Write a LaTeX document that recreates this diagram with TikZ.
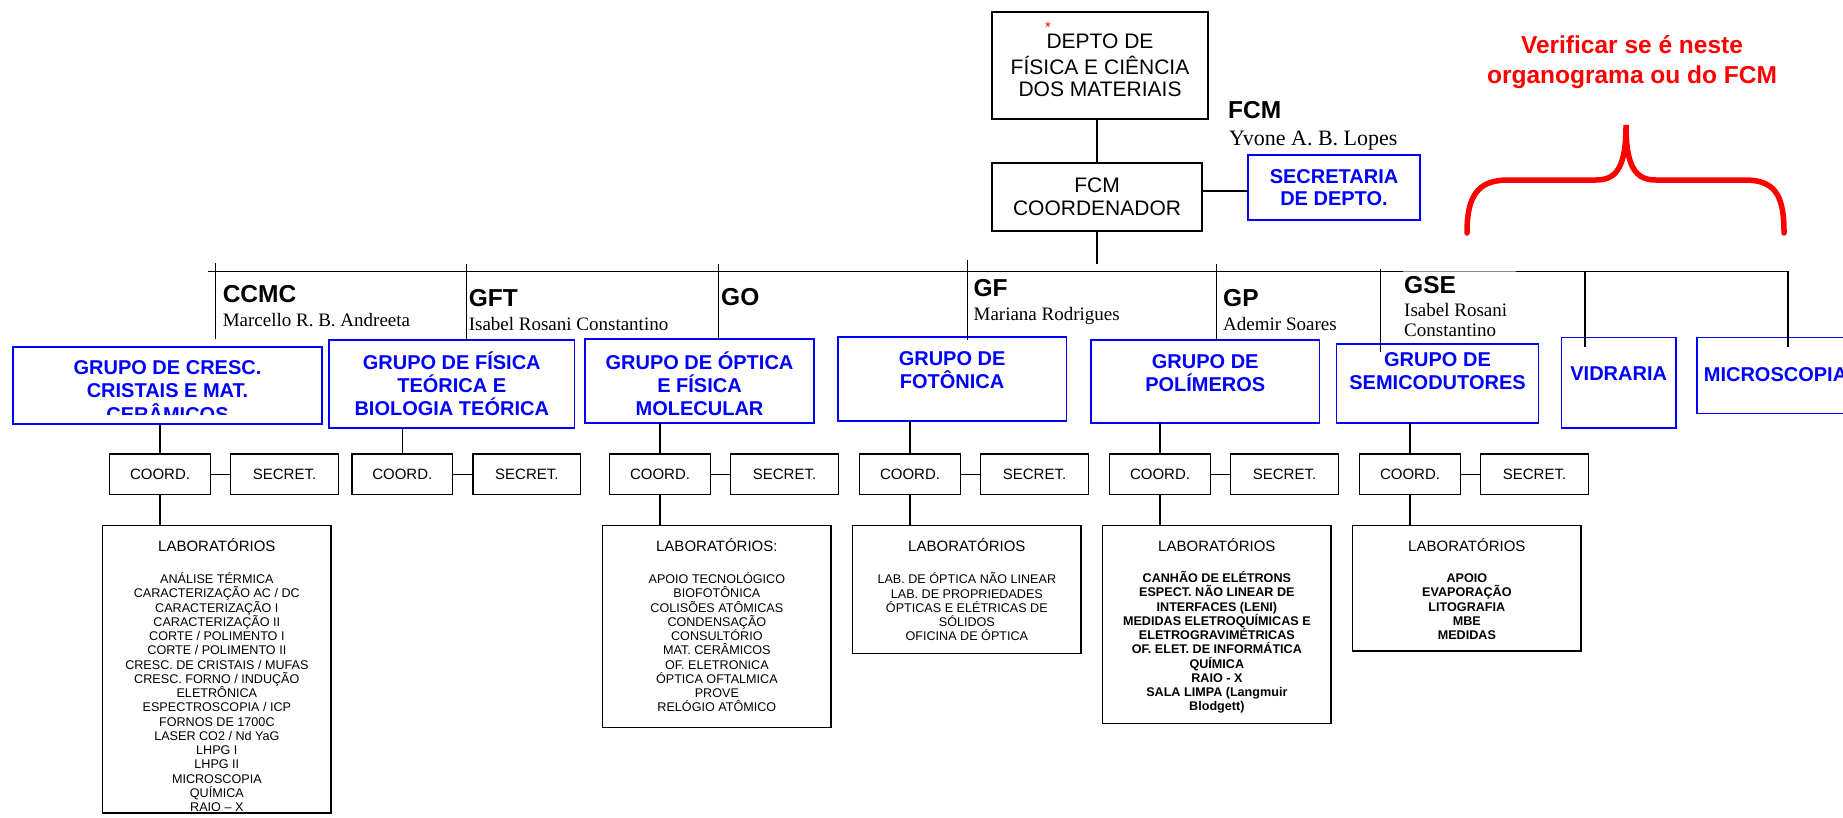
\documentclass[tikz,border=0pt]{standalone}
\usepackage{fontspec}
\setmainfont{Liberation Sans}
\newfontfamily\tms{Liberation Serif}
\begin{document}
\begin{tikzpicture}[x=1pt,y=-1pt,
  line/.style={line width=1.3pt},
  blkbox/.style={draw, line width=1.3pt, inner sep=0pt, outer sep=0pt, align=center},
  bluebox/.style={draw=blue, line width=1.6pt, inner sep=0pt, outer sep=0pt},
  grptxt/.style={text=blue, inner sep=0pt, align=center, font=\bfseries\fontsize{20}{23.3}\selectfont},
  subbox/.style={draw, line width=1.3pt, inner sep=0pt, outer sep=0pt, minimum height=40.3pt, font=\fontsize{15}{18}\selectfont},
  labbox/.style={draw, line width=1.3pt, inner sep=0pt, outer sep=0pt, minimum width=228.3pt},
  labhead/.style={inner sep=0pt, font=\fontsize{15}{18}\selectfont},
  lablist/.style={inner sep=0pt, align=center, font=\fontsize{12.6}{14.25}\selectfont},
  lablistb/.style={inner sep=0pt, align=center, font=\bfseries\fontsize{12.6}{14.25}\selectfont},
  code/.style={inner sep=0pt, anchor=base west, font=\bfseries\fontsize{24.5}{28}\selectfont},
  who/.style={inner sep=0pt, anchor=base west, align=left, font=\tms\fontsize{19}{20.7}\selectfont},
]
\useasboundingbox (0,0) rectangle (1843,817);
\clip (0,0) rectangle (1843,817);

% ---------- department head ----------
\node[blkbox, minimum width=216pt, minimum height=107pt, font=\fontsize{21}{22.4}\selectfont]
  (dept) at (1100,65.5) {DEPTO DE\\[3.4pt]FÍSICA E CIÊNCIA\\DOS MATERIAIS};
\node[inner sep=0pt, text=red, font=\fontsize{15}{16}\selectfont] (star) at (1048,27) {*};

\node[blkbox, minimum width=210pt, minimum height=68pt, font=\fontsize{21}{23}\selectfont]
  (fcm) at (1097,197) {FCM\\COORDENADOR};
\node[bluebox, minimum width=172pt, minimum height=65pt, text=blue, align=center,
  font=\bfseries\fontsize{20}{21.6}\selectfont] (sec) at (1334,187.5) {SECRETARIA\\DE DEPTO.};

\node[code] (fcm-code) at (1228,118.3) {FCM};
\node[who, font=\tms\fontsize{22}{24}\selectfont] (fcm-who) at (1229,145) {Yvone A. B. Lopes};

\coordinate (sec-y) at (1225,191);
\draw[line] (fcm.north) -- (fcm.north |- dept.south);
\draw[line] (fcm.east |- sec-y) -- (sec.west |- sec-y);

% ---------- note in red ----------
\node[inner sep=0pt, text=red, align=center, font=\bfseries\fontsize{24.5}{30}\selectfont]
  (note) at (1632,62) {Verificar se é neste\\organograma ou do FCM};
\draw[red, line width=5.5pt, line cap=round]
  (1467,233) .. controls (1467,198) and (1476,180) .. (1508,180) -- (1596,180)
  .. controls (1616,180) and (1626,168) .. (1626,125)
  .. controls (1626,168) and (1636,180) .. (1656,180) -- (1745,180)
  .. controls (1777,180) and (1784,198) .. (1784,233);

% ---------- group boxes ----------
\node[bluebox, minimum width=309pt, minimum height=77pt] (ccmc) at (167.5,385.5) {};
\begin{scope}
  \clip (13,347) rectangle (322,414.5);
  \node[grptxt] (ccmc-t) at (167.5,391) {GRUPO DE CRESC.\\CRISTAIS E MAT.\\CERÂMICOS};
\end{scope}
\node[bluebox, minimum width=245.5pt, minimum height=87.7pt] (gft) at (451.75,383.85) {};
\node[grptxt] (gft-t) at (451.75,383.7) {GRUPO DE FÍSICA\\TEÓRICA E\\BIOLOGIA TEÓRICA};
\node[bluebox, minimum width=229pt, minimum height=83.7pt] (go) at (699.5,380.85) {};
\node[grptxt] (go-t) at (699.5,383.7) {GRUPO DE ÓPTICA\\E FÍSICA\\MOLECULAR};
\node[bluebox, minimum width=228.6pt, minimum height=84.3pt] (gf) at (952.1,378.85) {};
\node[grptxt] (gf-t) at (952.1,370) {GRUPO DE\\FOTÔNICA};
\node[bluebox, minimum width=228.5pt, minimum height=82.7pt] (gp) at (1205.25,381.35) {};
\node[grptxt] (gp-t) at (1205.25,373.3) {GRUPO DE\\POLÍMEROS};
\node[bluebox, minimum width=202.2pt, minimum height=78.7pt] (gse) at (1437.5,383.35) {};
\node[grptxt] (gse-t) at (1437.5,370.8) {GRUPO DE\\SEMICODUTORES};
\node[bluebox, minimum width=114.6pt, minimum height=90.4pt] (vid) at (1618.7,382.5) {};
\node[grptxt] (vid-t) at (1618.7,374) {VIDRARIA};
\node[bluebox, minimum width=157.3pt, minimum height=76pt] (mic) at (1775.35,375.3) {};
\node[grptxt] (mic-t) at (1775.5,375) {MICROSCOPIA};

% ---------- group codes and heads ----------
\node[code] (ccmc-c) at (222.6,302.7) {CCMC};
\node[who] (ccmc-w) at (222.6,326) {Marcello R. B. Andreeta};
\node[code] (gft-c) at (468.6,306.7) {GFT};
\node[who] (gft-w) at (468.6,330.5) {Isabel Rosani Constantino};
\node[code] (go-c) at (721,305) {GO};
\node[code] (gf-c) at (973.4,296) {GF};
\node[who] (gf-w) at (973.4,320) {Mariana Rodrigues};
\node[code] (gp-c) at (1223,306.7) {GP};
\node[who] (gp-w) at (1223,330) {Ademir Soares};
\node[code] (gse-c) at (1404,293.3) {GSE};
\node[who] (gse-w1) at (1404,316) {Isabel Rosani};
\node[who] (gse-w2) at (1404,336.7) {Constantino};

% ---------- main bus ----------
\coordinate (bus-w) at (208,271.3);
\coordinate (bus-e) at (1788,271.3);
\coordinate (gap-a) at (1403,271.3);
\coordinate (gap-b) at (1516,271.3);
\coordinate (bus-c) at (1097,264);
\draw[line] (fcm.south) -- (bus-c);
\draw[line] (bus-w) -- (gap-a);
\draw[line width=0.8pt, black!45] (gap-a) -- (gap-b);
\draw[line, shorten >=-10pt] (gap-b) -- (bus-e) -- (bus-e |- mic.north);

\coordinate (tk-ccmc) at (215.5,263);
\coordinate (tk-gft) at (466.6,264);
\coordinate (tk-go) at (718.4,264);
\coordinate (tk-gf) at (967.5,260);
\coordinate (tk-gp) at (1216.8,264);
\coordinate (tk-gse) at (1380.8,269);
\coordinate (tk-vid) at (1585,271.3);
\draw[line, shorten >=8pt] (tk-ccmc) -- (tk-ccmc |- ccmc.north);
\draw[line, shorten >=-1pt] (tk-gft) -- (tk-gft |- gft.north);
\draw[line, shorten >=-1pt] (tk-go) -- (tk-go |- go.north);
\draw[line, shorten >=-3.3pt] (tk-gf) -- (tk-gf |- gf.north);
\draw[line, shorten >=-1pt] (tk-gp) -- (tk-gp |- gp.north);
\draw[line, shorten >=-7.7pt] (tk-gse) -- (tk-gse |- gse.north);
\draw[line, shorten >=-10pt] (tk-vid) -- (tk-vid |- vid.north);

% ---------- coordination / secretary rows ----------
\foreach \v/\n in {160/ccmc, 402.3/gft, 660/go, 910/gf, 1160/gp, 1410/gse}{
  \node[subbox, minimum width=100.6pt] (co-\n) at (\v,474.15) {COORD.};
  \node[subbox, minimum width=107.5pt] (se-\n) at (\v+124.55,474.15) {SECRET.};
  \draw[line] (co-\n) -- (se-\n);
  \draw[line] (co-\n.north) -- (co-\n.north |- \n.south);
}

% ---------- laboratories ----------
\node[labbox, minimum height=287.3pt] (lab-ccmc) at (216.85,669.35) {};
\node[labhead] (lh-ccmc) at (216.85,545) {LABORATÓRIOS};
\node[lablist] (ll-ccmc) at (216.85,692.3) {ANÁLISE TÉRMICA\\CARACTERIZAÇÃO AC / DC\\CARACTERIZAÇÃO I\\CARACTERIZAÇÃO II\\CORTE / POLIMENTO I\\CORTE / POLIMENTO II\\CRESC. DE CRISTAIS / MUFAS\\CRESC. FORNO / INDUÇÃO\\ELETRÔNICA\\ESPECTROSCOPIA / ICP\\FORNOS DE 1700C\\LASER CO2 / Nd YaG\\LHPG I\\LHPG II\\MICROSCOPIA\\QUÍMICA\\RAIO – X};

\node[labbox, minimum height=201.6pt] (lab-go) at (716.85,626.5) {};
\node[labhead] (lh-go) at (716.85,545) {LABORATÓRIOS:};
\node[lablist] (ll-go) at (716.85,642.4) {APOIO TECNOLÓGICO\\BIOFOTÔNICA\\COLISÕES ATÔMICAS\\CONDENSAÇÃO\\CONSULTÓRIO\\MAT. CERÂMICOS\\OF. ELETRONICA\\ÓPTICA OFTALMICA\\PROVE\\RELÓGIO ATÔMICO};

\node[labbox, minimum height=127.6pt] (lab-gf) at (966.85,589.5) {};
\node[labhead] (lh-gf) at (966.85,545) {LABORATÓRIOS};
\node[lablist] (ll-gf) at (966.85,606.8) {LAB. DE ÓPTICA NÃO LINEAR\\LAB. DE PROPRIEDADES\\ÓPTICAS E ELÉTRICAS DE\\SÓLIDOS\\OFICINA DE ÓPTICA};

\node[labbox, minimum height=197.6pt] (lab-gp) at (1216.85,624.5) {};
\node[labhead] (lh-gp) at (1216.85,545) {LABORATÓRIOS};
\node[lablistb] (ll-gp) at (1216.85,642.4) {CANHÃO DE ELÉTRONS\\ESPECT. NÃO LINEAR DE\\INTERFACES (LENI)\\MEDIDAS ELETROQUÍMICAS E\\ELETROGRAVIMÉTRICAS\\OF. ELET. DE INFORMÁTICA\\QUÍMICA\\RAIO - X\\SALA LIMPA (Langmuir\\Blodgett)};

\node[labbox, minimum height=125.3pt] (lab-gse) at (1466.85,588.35) {};
\node[labhead] (lh-gse) at (1466.85,545) {LABORATÓRIOS};
\node[lablistb] (ll-gse) at (1466.85,606.8) {APOIO\\EVAPORAÇÃO\\LITOGRAFIA\\MBE\\MEDIDAS};

\foreach \n in {ccmc, go, gf, gp, gse}{
  \draw[line] (co-\n.south) -- (co-\n.south |- lab-\n.north);
}
\end{tikzpicture}
\end{document}
